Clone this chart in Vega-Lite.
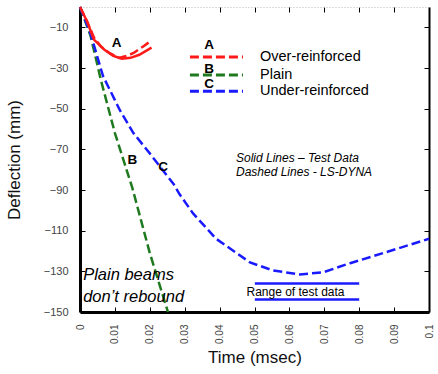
{
  "$schema": "https://vega.github.io/schema/vega-lite/v6.json",
  "width": 349,
  "height": 305,
  "autosize": {"type": "none"},
  "padding": {"left": 80, "top": 7, "right": 9, "bottom": 62},
  "background": "white",
  "config": {
    "view": {"stroke": null},
    "font": "Liberation Sans",
    "axis": {"grid": false, "labelFont": "Liberation Sans", "titleFont": "Liberation Sans", "titleFontWeight": "normal", "labelColor": "#444", "titleColor": "#111"}
  },
  "datasets": {
    "curves": [
      {"s": "A", "k": "dash", "t": 0, "v": 0},
      {"s": "A", "k": "dash", "t": 0.002, "v": -7},
      {"s": "A", "k": "dash", "t": 0.004, "v": -15},
      {"s": "A", "k": "dash", "t": 0.006, "v": -19.5},
      {"s": "A", "k": "dash", "t": 0.0085, "v": -22.7},
      {"s": "A", "k": "dash", "t": 0.0113, "v": -25},
      {"s": "A", "k": "dash", "t": 0.0135, "v": -24},
      {"s": "A", "k": "dash", "t": 0.0155, "v": -22.5},
      {"s": "A", "k": "dash", "t": 0.018, "v": -19.5},
      {"s": "A", "k": "dash", "t": 0.0205, "v": -16.5},
      {"s": "A", "k": "solid", "t": 0, "v": 0},
      {"s": "A", "k": "solid", "t": 0.002, "v": -7},
      {"s": "A", "k": "solid", "t": 0.004, "v": -16},
      {"s": "A", "k": "solid", "t": 0.007, "v": -21},
      {"s": "A", "k": "solid", "t": 0.0095, "v": -24},
      {"s": "A", "k": "solid", "t": 0.012, "v": -25.5},
      {"s": "A", "k": "solid", "t": 0.0145, "v": -25},
      {"s": "A", "k": "solid", "t": 0.017, "v": -23.5},
      {"s": "A", "k": "solid", "t": 0.0205, "v": -20},
      {"s": "B", "k": "dash", "t": 0, "v": 0},
      {"s": "B", "k": "dash", "t": 0.003, "v": -14},
      {"s": "B", "k": "dash", "t": 0.006, "v": -36},
      {"s": "B", "k": "dash", "t": 0.01, "v": -62},
      {"s": "B", "k": "dash", "t": 0.015, "v": -89},
      {"s": "B", "k": "dash", "t": 0.02, "v": -121},
      {"s": "B", "k": "dash", "t": 0.0252, "v": -150},
      {"s": "C", "k": "dash", "t": 0, "v": 0},
      {"s": "C", "k": "dash", "t": 0.003, "v": -13},
      {"s": "C", "k": "dash", "t": 0.0066, "v": -34},
      {"s": "C", "k": "dash", "t": 0.0115, "v": -51},
      {"s": "C", "k": "dash", "t": 0.0153, "v": -62},
      {"s": "C", "k": "dash", "t": 0.02, "v": -72},
      {"s": "C", "k": "dash", "t": 0.0245, "v": -82},
      {"s": "C", "k": "dash", "t": 0.0268, "v": -87},
      {"s": "C", "k": "dash", "t": 0.0285, "v": -92},
      {"s": "C", "k": "dash", "t": 0.0324, "v": -101.5},
      {"s": "C", "k": "dash", "t": 0.039, "v": -114},
      {"s": "C", "k": "dash", "t": 0.0487, "v": -125.6},
      {"s": "C", "k": "dash", "t": 0.0553, "v": -129.6},
      {"s": "C", "k": "dash", "t": 0.063, "v": -131.5},
      {"s": "C", "k": "dash", "t": 0.0696, "v": -130.5},
      {"s": "C", "k": "dash", "t": 0.0774, "v": -126},
      {"s": "C", "k": "dash", "t": 0.0869, "v": -121},
      {"s": "C", "k": "dash", "t": 0.1, "v": -114}
    ],
    "legend": [
      {"s": "A", "t0": 0.0315, "t1": 0.0467, "v": -24.6, "lt": 0.037, "lv": -18.7, "name": "Over-reinforced"},
      {"s": "B", "t0": 0.0315, "t1": 0.0467, "v": -33.5, "lt": 0.037, "lv": -30.5, "name": "Plain"},
      {"s": "C", "t0": 0.0315, "t1": 0.0467, "v": -41.4, "lt": 0.037, "lv": -37.9, "name": "Under-reinforced"}
    ],
    "curveLabels": [
      {"s": "A", "t": 0.0105, "v": -17.5},
      {"s": "B", "t": 0.0150, "v": -75},
      {"s": "C", "t": 0.0238, "v": -78.5}
    ],
    "notes": [
      {"t": 0.0447, "v": -74.4, "txt": "Solid Lines \u2013 Test Data"},
      {"t": 0.0447, "v": -81.3, "txt": "Dashed Lines - LS-DYNA"}
    ],
    "plain": [
      {"t": 0.0009, "v": -132, "txt": "Plain beams"},
      {"t": 0.0009, "v": -142.4, "txt": "don\u2019t rebound"}
    ],
    "range": [
      {"t0": 0.0501, "t1": 0.08, "v": -136},
      {"t0": 0.0501, "t1": 0.08, "v": -143.8}
    ],
    "rangeLabel": [
      {"t": 0.0477, "v": -140, "txt": "Range of test data"}
    ]
  },
  "resolve": {"axis": {"x": "independent", "y": "independent"}},
  "layer": [
    {
      "data": {"name": "curves"},
      "transform": [{"filter": "datum.k === 'dash'"}],
      "mark": {"type": "line", "strokeDash": [9, 4], "strokeWidth": 2.5},
      "encoding": {
        "x": {"field": "t", "type": "quantitative", "scale": {"domain": [0, 0.1], "nice": false},
          "axis": {"title": "Time (msec)", "titleFontSize": 17, "titlePadding": 6, "values": [0, 0.01, 0.02, 0.03, 0.04, 0.05, 0.06, 0.07, 0.08, 0.09, 0.1], "labelAngle": 270, "labelFontSize": 10, "labelExpr": "datum.value === 0 ? '0' : datum.value === 0.1 ? '0.1' : format(datum.value, '.2f')", "domainColor": "black", "domainWidth": 3, "tickColor": "black", "tickSize": -5, "labelPadding": 17, "labelAlign": "right", "labelBaseline": "middle"}},
        "y": {"field": "v", "type": "quantitative", "scale": {"domain": [-150, 0], "nice": false},
          "axis": {"title": "Deflection (mm)", "titleFontSize": 17, "titlePadding": 20, "values": [-10, -30, -50, -70, -90, -110, -130, -150], "labelFontSize": 11, "domainColor": "black", "domainWidth": 3, "tickColor": "black", "tickSize": -5, "labelPadding": 17}},
        "color": {"field": "s", "type": "nominal", "scale": {"domain": ["A", "B", "C"], "range": ["#ff1a1a", "#1f7a1f", "#1a1aff"]}, "legend": null},
        "detail": {"field": "s"}
      }
    },
    {
      "data": {"name": "curves"},
      "transform": [{"filter": "datum.k === 'solid'"}],
      "mark": {"type": "line", "strokeWidth": 2.5, "color": "#ff1a1a"},
      "encoding": {
        "x": {"field": "t", "type": "quantitative", "axis": {"orient": "top", "title": null, "labels": false, "values": [0.01, 0.02, 0.03, 0.04, 0.05, 0.06, 0.07, 0.08, 0.09], "domainColor": "#bbb", "domainDash": [1, 2], "domainWidth": 1, "tickColor": "black", "tickSize": -5}},
        "y": {"field": "v", "type": "quantitative", "axis": {"orient": "right", "title": null, "labels": false, "values": [-10, -30, -50, -70, -90, -110, -130], "domainColor": "black", "domainWidth": 2, "tickColor": "black", "tickSize": -5}}
      }
    },
    {
      "data": {"name": "legend"},
      "mark": {"type": "rule", "strokeDash": [9, 4], "strokeWidth": 3},
      "encoding": {
        "x": {"field": "t0", "type": "quantitative", "axis": null},
        "x2": {"field": "t1"},
        "y": {"field": "v", "type": "quantitative", "axis": null},
        "color": {"field": "s", "type": "nominal", "legend": null}
      }
    },
    {
      "data": {"name": "legend"},
      "mark": {"type": "text", "fontSize": 13.5, "fontWeight": "bold", "align": "center", "baseline": "middle", "color": "black"},
      "encoding": {
        "x": {"field": "lt", "type": "quantitative", "axis": null},
        "y": {"field": "lv", "type": "quantitative", "axis": null},
        "text": {"field": "s"}
      }
    },
    {
      "data": {"name": "legend"},
      "mark": {"type": "text", "fontSize": 14.5, "align": "left", "baseline": "middle", "dx": 17, "color": "black"},
      "encoding": {
        "x": {"field": "t1", "type": "quantitative", "axis": null},
        "y": {"field": "v", "type": "quantitative", "axis": null},
        "text": {"field": "name"}
      }
    },
    {
      "data": {"name": "curveLabels"},
      "mark": {"type": "text", "fontSize": 13.5, "fontWeight": "bold", "align": "center", "baseline": "middle", "color": "black"},
      "encoding": {
        "x": {"field": "t", "type": "quantitative", "axis": null},
        "y": {"field": "v", "type": "quantitative", "axis": null},
        "text": {"field": "s"}
      }
    },
    {
      "data": {"name": "notes"},
      "mark": {"type": "text", "fontSize": 12, "fontStyle": "italic", "align": "left", "baseline": "middle", "color": "black"},
      "encoding": {
        "x": {"field": "t", "type": "quantitative", "axis": null},
        "y": {"field": "v", "type": "quantitative", "axis": null},
        "text": {"field": "txt"}
      }
    },
    {
      "data": {"name": "plain"},
      "mark": {"type": "text", "fontSize": 16.5, "fontStyle": "italic", "align": "left", "baseline": "middle", "color": "black"},
      "encoding": {
        "x": {"field": "t", "type": "quantitative", "axis": null},
        "y": {"field": "v", "type": "quantitative", "axis": null},
        "text": {"field": "txt"}
      }
    },
    {
      "data": {"name": "range"},
      "mark": {"type": "rule", "strokeWidth": 2.5, "color": "#1a1aff"},
      "encoding": {
        "x": {"field": "t0", "type": "quantitative", "axis": null},
        "x2": {"field": "t1"},
        "y": {"field": "v", "type": "quantitative", "axis": null}
      }
    },
    {
      "data": {"name": "rangeLabel"},
      "mark": {"type": "text", "fontSize": 12, "align": "left", "baseline": "middle", "color": "black"},
      "encoding": {
        "x": {"field": "t", "type": "quantitative", "axis": null},
        "y": {"field": "v", "type": "quantitative", "axis": null},
        "text": {"field": "txt"}
      }
    }
  ]
}
